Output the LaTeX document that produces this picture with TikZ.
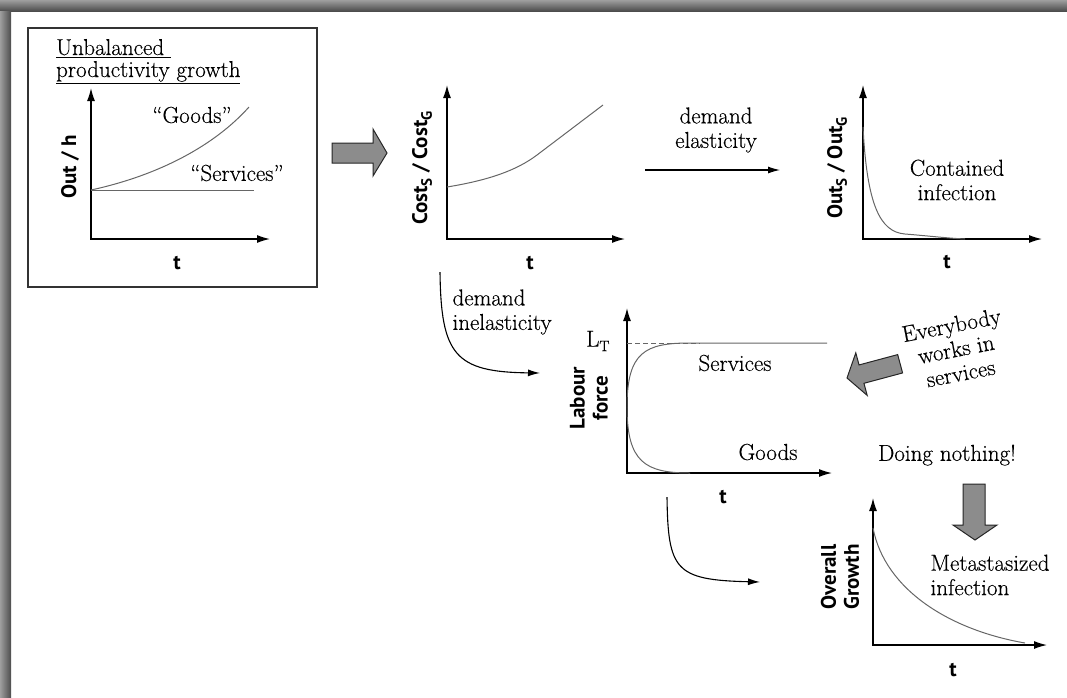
\documentclass[tikz,border=0pt]{standalone}
\usepackage{fontspec}
\setmainfont{Latin Modern Roman}[FakeBold=0.35]
\setsansfont{PT Sans}
\usetikzlibrary{arrows.meta}

\newcommand{\lowsub}[1]{\raisebox{-0.45ex}{\fontsize{15}{15}\selectfont #1}}

\tikzset{
  axes/.style={line width=1.3pt,{Latex[length=13pt,width=8pt]}-{Latex[length=13pt,width=8pt]}},
  trend/.style={line width=1pt,draw=black!60},
  flow/.style={line width=1.1pt,-{Latex[length=12pt,width=7pt]}},
  fatarrow/.style={fill=black!45,draw=black!85,line width=1pt,line join=miter},
  axlabel/.style={font=\sffamily\bfseries\fontsize{21}{23}\selectfont,rotate=90,align=center},
  tlabel/.style={font=\sffamily\bfseries\fontsize{21}{23}\selectfont},
  note/.style={font=\fontsize{23}{24.5}\selectfont,align=center},
}

\begin{document}
\begin{tikzpicture}[x=1pt,y=-1pt]
\useasboundingbox (0,0) rectangle (1067,697);
% shaded frame edges
\shade[top color=black!38,bottom color=black!70] (0,0) rectangle (1067,11);
\shade[left color=black!38,right color=black!70] (0,11) rectangle (11,697);

% unbalanced productivity growth
\draw[black!80,line width=1.2pt] (28,28) rectangle (317,287);
\node[note,anchor=base west,inner sep=0] (title1) at (56,55) {\underline{Unbalanced\ }};
\node[note,anchor=base west,inner sep=0] (title2) at (56,77) {\underline{productivity growth}};
\draw[axes] (91,88) |- (270,239);
\draw[trend] (91,190) -- (254,190);
\draw[trend] (91,190) .. controls (160,175) and (215,145) .. (249,107);
\node[axlabel] (outh) at (70,167) {Out / h};
\node[tlabel] (t1) at (177,263) {t};
\node[note] (goods) at (192,115) {``Goods''};
\node[note] (serv) at (237,173) {``Services''};

\draw[fatarrow] (332,143) -- (373,143) -- (373,129) -- (387,153) -- (373,176) -- (373,163) -- (332,163) -- cycle;

% relative cost
\draw[axes] (447,85) |- (625,239);
\draw[trend] (447,187) .. controls (490,180) and (517,170) .. (537,155) -- (603,105);
\node[axlabel] (cost) at (422,168) {Cost\lowsub{S} / Cost\lowsub{G}};
\node[tlabel] (t2) at (530,263) {t};

\coordinate (elasA) at (645,170);
\coordinate (elasB) at (780,170);
\draw[flow] (elasA) -- (elasB);
\node[note] (elas) at (716,130) {demand\\elasticity};

% relative output
\draw[axes] (863,85) |- (1042,239);
\draw[trend] (863,127) .. controls (867,205) and (880,232) .. (905,234)
  .. controls (930,236) and (945,238) .. (965,239);
\node[axlabel] (outs) at (837,168) {Out\lowsub{S} / Out\lowsub{G}};
\node[tlabel] (t3) at (947,262) {t};
\node[note] (contained) at (957,180) {Contained\\infection};

\coordinate (inelA) at (440,272);
\coordinate (inelB) at (540,373);
\draw[flow] (inelA) .. controls (441,355) and (455,372) .. (inelB);
\node[note,align=left,anchor=west] (inel) at (449,312) {demand\\inelasticity};

% labour force
\draw[axes] (627,308) |- (832,473);
\draw[black!60,line width=0.9pt,dash pattern=on 5pt off 3pt] (627,343) -- (700,343);
\draw[trend] (627,407) .. controls (627,352) and (645,343) .. (690,343) -- (827,343);
\draw[trend] (627,407) .. controls (627,462) and (645,473) .. (690,473);
\node[note,anchor=east] (lt) at (613,341) {L\lowsub{T}};
\node[axlabel] (labour) at (589,398) {Labour\\force};
\node[note] (services) at (735,363) {Services};
\node[note] (gds) at (768,452) {Goods};
\node[tlabel] (t4) at (723,497) {t};

\begin{scope}[shift={(847,378)},rotate=15]
\draw[fatarrow] (0,0) -- (15,-22) -- (15,-9.5) -- (55,-9.5) -- (55,9.5) -- (15,9.5) -- (15,22) -- cycle;
\end{scope}
\node[note,rotate=11] (everybody) at (956,349) {Everybody\\works in\\services};

\node[note] (nothing) at (947,455) {Doing nothing!};
\draw[fatarrow] (963,484) -- (985,484) -- (985,525) -- (997,525) -- (975,540) -- (953,525) -- (963,525) -- cycle;

\coordinate (downA) at (667,497);
\coordinate (downB) at (760,582);
\draw[flow] (downA) .. controls (668,570) and (675,580) .. (downB);

% overall growth
\draw[axes] (873,498) |- (1047,645);
\draw[trend] (873,528) .. controls (885,590) and (950,630) .. (1025,643);
\node[axlabel] (overall) at (840,577) {Overall\\Growth};
\node[note,align=left] (meta) at (990,575) {Metastasized\\infection};
\node[tlabel] (t5) at (953,670) {t};
\end{tikzpicture}
\end{document}
